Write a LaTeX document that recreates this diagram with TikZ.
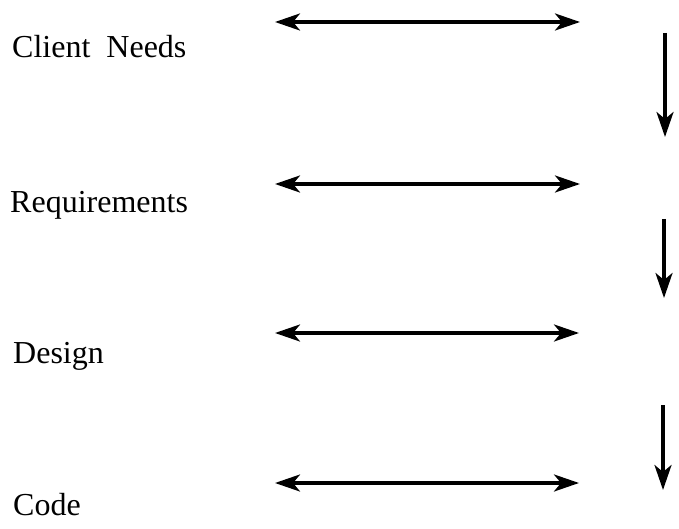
\documentclass[tikz,border=0pt]{standalone}
\usepackage{fontspec}
\setmainfont{Liberation Serif}
\usetikzlibrary{arrows.meta}
\begin{document}
\begin{tikzpicture}[x=1pt,y=1pt,
  lbl/.style={anchor=base west,inner sep=0pt,font=\fontsize{32}{38}\selectfont},
  arr/.style={line width=3.5pt,-{Stealth[length=25pt,width=17pt,inset=7pt]}},
  darr/.style={line width=3.5pt,{Stealth[length=25pt,width=17pt,inset=7pt]}-{Stealth[length=25pt,width=17pt,inset=7pt]}}]
\useasboundingbox (0,0) rectangle (679,-529);
\node[lbl] (cn) at (12,-58) {Client\hspace{0.5em}Needs};
\node[lbl] (rq) at (10,-213) {Requirements};
\node[lbl] (ds) at (13,-363) {Design};
\node[lbl] (cd) at (13,-515) {Code};
\coordinate (h1a) at (275,-22); \coordinate (h1b) at (580,-22);
\coordinate (h2a) at (275,-184); \coordinate (h2b) at (580,-184);
\coordinate (h3a) at (275,-333); \coordinate (h3b) at (579,-333);
\coordinate (h4a) at (275,-483); \coordinate (h4b) at (579,-483);
\draw[darr] (h1a) -- (h1b);
\draw[darr] (h2a) -- (h2b);
\draw[darr] (h3a) -- (h3b);
\draw[darr] (h4a) -- (h4b);
\coordinate (v1a) at (665,-33); \coordinate (v1b) at (665,-137);
\coordinate (v2a) at (664,-219); \coordinate (v2b) at (664,-298);
\coordinate (v3a) at (663,-405); \coordinate (v3b) at (663,-490);
\draw[arr] (v1a) -- (v1b);
\draw[arr] (v2a) -- (v2b);
\draw[arr] (v3a) -- (v3b);
\end{tikzpicture}
\end{document}
